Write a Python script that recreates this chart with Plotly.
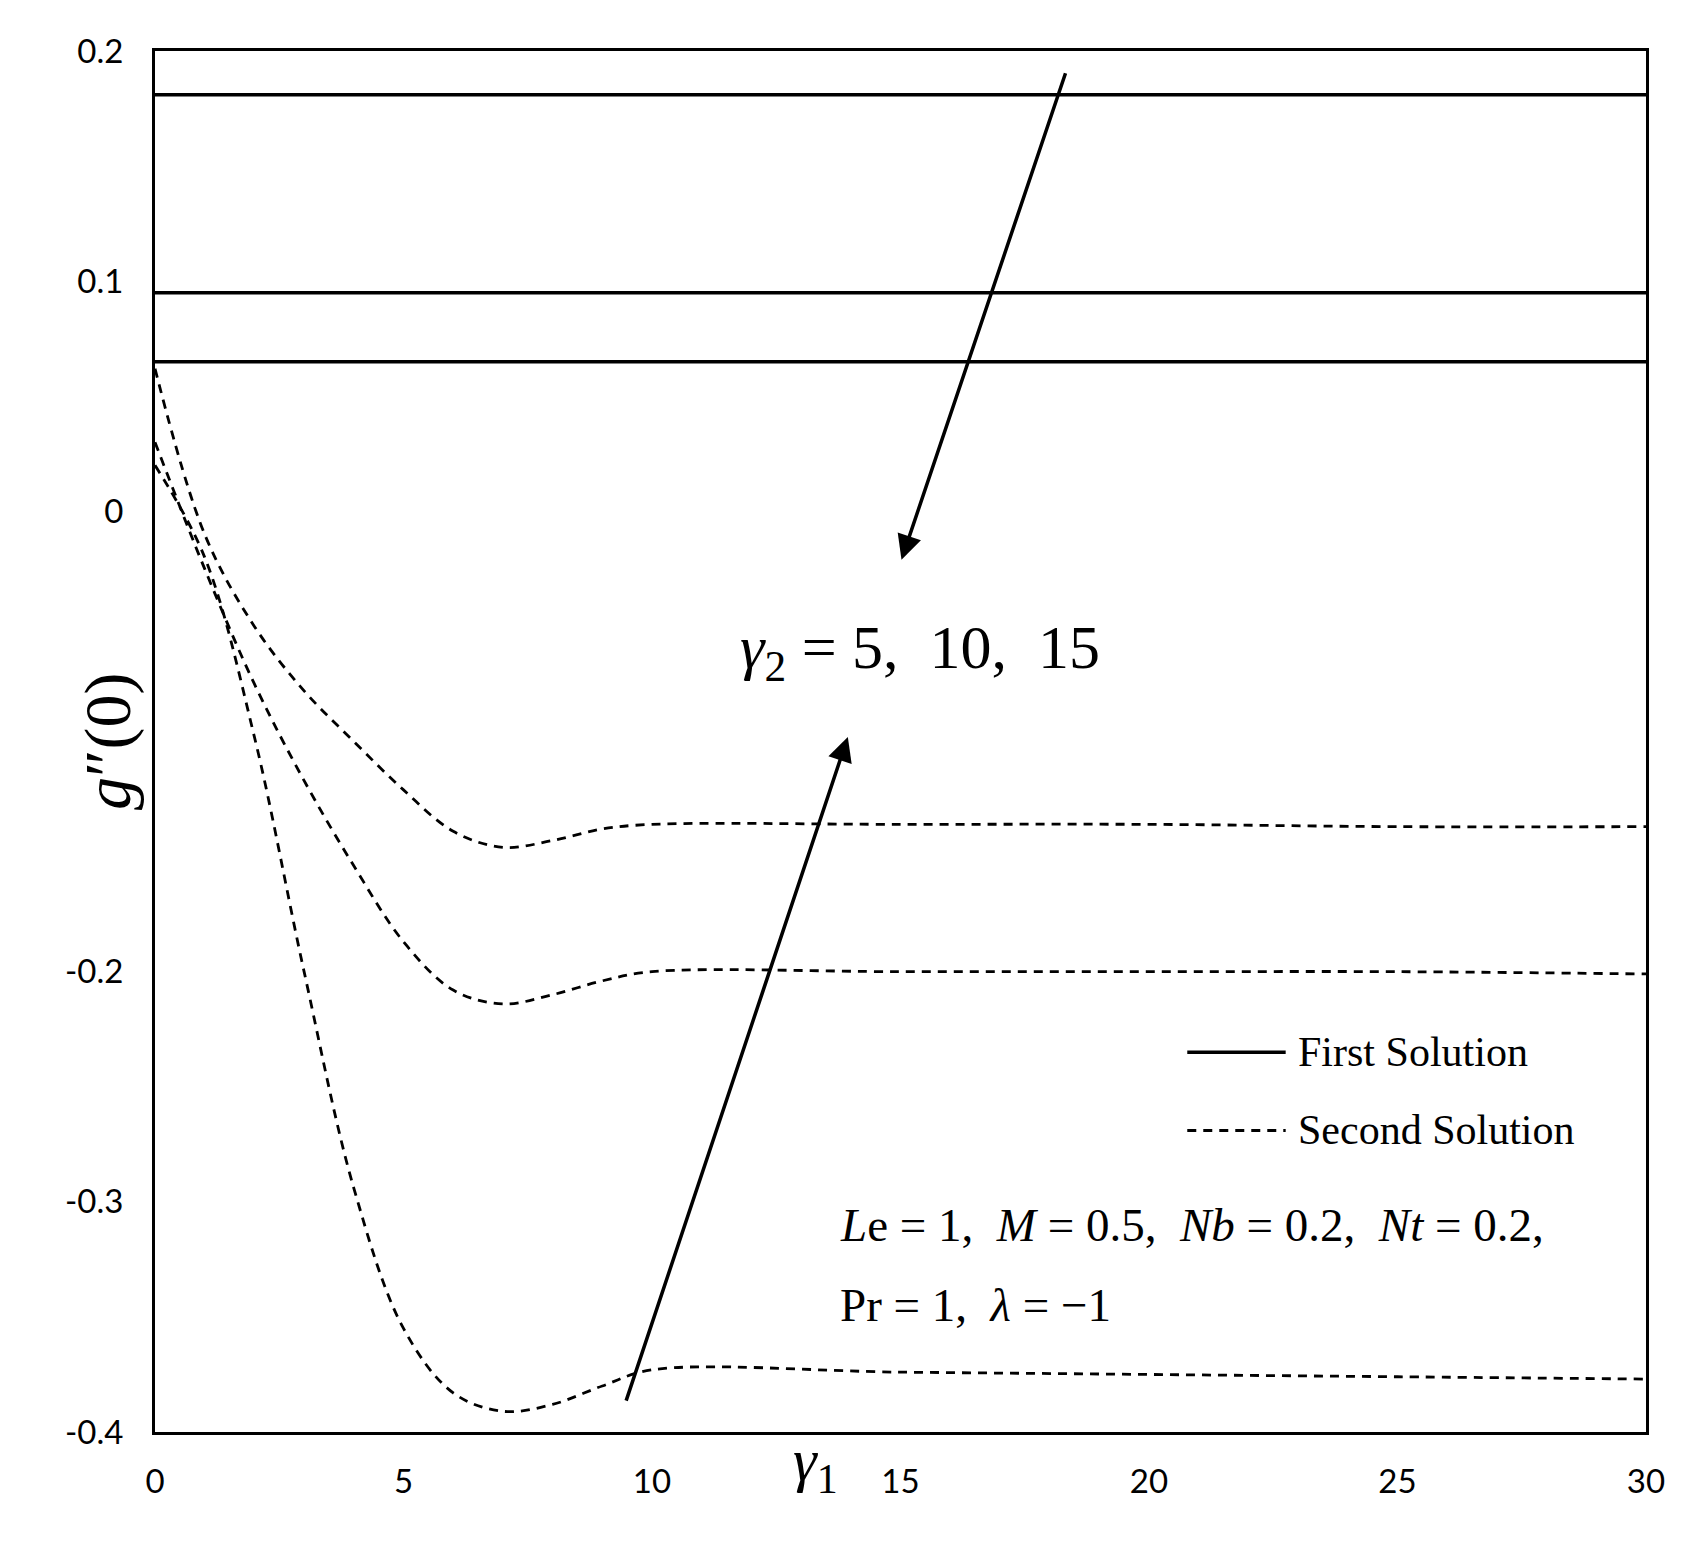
import plotly.graph_objects as go

x_first = [0, 30]
first_1 = [0.181, 0.181]
first_2 = [0.095, 0.095]
first_3 = [0.065, 0.065]

x_sec = [0, 1, 2, 3, 4, 5, 6, 7, 8, 9, 10, 15, 20, 25, 30]
sec_1 = [0.062, -0.01, -0.05, -0.078, -0.1, -0.121, -0.139, -0.146, -0.143, -0.138, -0.136, -0.136, -0.136, -0.137, -0.137]
sec_2 = [0.03, -0.025, -0.075, -0.117, -0.154, -0.187, -0.208, -0.214, -0.21, -0.204, -0.2, -0.2, -0.2, -0.2, -0.201]
sec_3 = [0.02, -0.02, -0.098, -0.2, -0.294, -0.355, -0.383, -0.391, -0.388, -0.38, -0.373, -0.374, -0.375, -0.376, -0.377]

fig = go.Figure()
for y in (first_1, first_2, first_3):
    fig.add_trace(go.Scatter(x=x_first, y=y, mode="lines", line=dict(color="black", width=3.5), showlegend=False))
for y in (sec_1, sec_2, sec_3):
    fig.add_trace(go.Scatter(x=x_sec, y=y, mode="lines", line=dict(color="black", width=2.8, dash="9px,7px", shape="spline", smoothing=1.0), showlegend=False))

fig.add_trace(go.Scatter(x=[20.77, 22.75], y=[-0.235, -0.235], mode="lines", line=dict(color="black", width=3.5), showlegend=False))
fig.add_trace(go.Scatter(x=[20.77, 22.75], y=[-0.269, -0.269], mode="lines", line=dict(color="black", width=2.8, dash="9px,7px"), showlegend=False))

serif = "Liberation Serif"
fig.add_annotation(x=22.95, y=-0.235, text="First Solution", showarrow=False, xanchor="left", font=dict(family=serif, size=42, color="black"))
fig.add_annotation(x=22.95, y=-0.269, text="Second Solution", showarrow=False, xanchor="left", font=dict(family=serif, size=42, color="black"))
fig.add_annotation(x=13.75, y=-0.31, text="<i>L</i>e = 1,  <i>M</i> = 0.5,  <i>Nb</i> = 0.2,  <i>Nt</i> = 0.2,", showarrow=False, xanchor="left", font=dict(family=serif, size=47, color="black"))
fig.add_annotation(x=13.75, y=-0.345, text="Pr = 1,  <i>λ</i> = −1", showarrow=False, xanchor="left", font=dict(family=serif, size=47, color="black"))
fig.add_annotation(x=15.4, y=-0.061, text="<i>γ</i><sub>2</sub> = 5,  10,  15", showarrow=False, font=dict(family=serif, size=62, color="black"))

fig.add_annotation(x=15.02, y=-0.021, ax=18.33, ay=0.191, xref="x", yref="y", axref="x", ayref="y",
                   text="", showarrow=True, arrowhead=2, arrowsize=1.4, arrowwidth=3.5, arrowcolor="black")
fig.add_annotation(x=13.94, y=-0.098, ax=9.47, ay=-0.387, xref="x", yref="y", axref="x", ayref="y",
                   text="", showarrow=True, arrowhead=2, arrowsize=1.4, arrowwidth=3.5, arrowcolor="black")

fig.add_annotation(x=-0.058, y=0.5, xref="paper", yref="paper", text="<i>g</i>″(0)", showarrow=False, textangle=-90,
                   font=dict(family=serif, size=66, color="black"))
fig.add_annotation(x=0.443, y=-0.052, xref="paper", yref="paper", text="<i>γ</i><sub>1</sub>", showarrow=False,
                   font=dict(family=serif, size=60, color="black"))

fig.update_xaxes(range=[0, 30], tickvals=[0, 5, 10, 15, 20, 25, 30], showgrid=False, zeroline=False,
                 showline=True, linecolor="black", linewidth=3, mirror=True, ticks="", ticklabelstandoff=18,
                 tickfont=dict(family="Lato", size=33, color="black"))
fig.update_yaxes(range=[-0.4, 0.2], tickvals=[-0.4, -0.3, -0.2, -0.1, 0, 0.1, 0.2],
                 ticktext=["-0.4", "-0.3", "-0.2", "", "0", "0.1", "0.2"], showgrid=False, zeroline=False,
                 showline=True, linecolor="black", linewidth=3, mirror=True, ticks="", ticklabelstandoff=22,
                 tickfont=dict(family="Lato", size=33, color="black"))
fig.update_layout(width=1684, height=1547, margin=dict(l=147, r=46, t=43, b=123),
                  plot_bgcolor="white", paper_bgcolor="white")
fig.write_html("out.html")
